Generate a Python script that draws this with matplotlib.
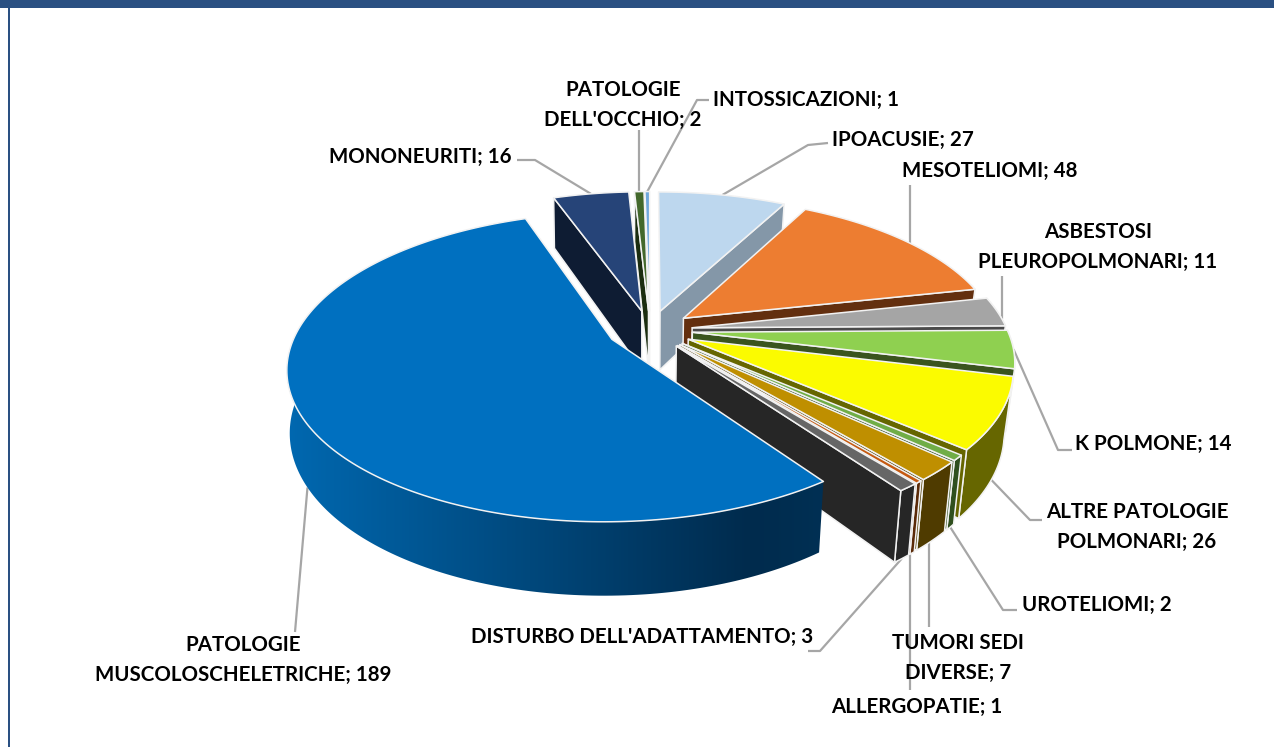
""" exploded 3D pie of reported occupational diseases """
import numpy as np
import matplotlib
matplotlib.use('Agg')
import matplotlib.pyplot as plt
from matplotlib.patches import Polygon, Rectangle
from matplotlib.colors import to_rgb

''' data, clockwise from 12 o'clock '''
names = ['IPOACUSIE', 'MESOTELIOMI', 'ASBESTOSI\nPLEUROPOLMONARI', 'K POLMONE',
         'ALTRE PATOLOGIE\nPOLMONARI', 'UROTELIOMI', 'TUMORI SEDI\nDIVERSE', 'ALLERGOPATIE',
         "DISTURBO DELL'ADATTAMENTO", 'PATOLOGIE\nMUSCOLOSCHELETRICHE', 'MONONEURITI',
         "PATOLOGIE\nDELL'OCCHIO", 'INTOSSICAZIONI']
values = [27, 48, 11, 14, 26, 2, 7, 1, 3, 189, 16, 2, 1]
top_colors = ['#BDD7EE', '#ED7D31', '#A5A5A5', '#8FD050', '#FBFB00', '#70AD47', '#BF8F00',
              '#C55A11', '#666666', '#0070C0', '#264478', '#43682B', '#6FA8DC']
wall_colors = ['#8497A8', '#632F0F', '#4A4A4A', '#3A541E', '#666600', '#2F4F1E', '#4F3B00',
               '#5A2A08', '#262626', '#0070C0', '#0E1C33', '#1B2D10', '#3F6080']

''' label layout: text centre, leader elbows (None = same x as the start),
how far down the wall the leader starts, and its angle shift in degrees '''
label_xy = [(903, 140), (990, 171), (1098, 247), (1153, 444), (1137, 527), (1097, 605), (958, 658),
            (917, 707), (642, 637), (243, 660), (420, 157), (623, 105), (806, 100)]
elbows = [[(808, 145), (828, 143)], [(None, 185)], [(None, 276)], [(1058, 450), (1072, 450)],
          [(1030, 520), (1042, 520)], [(1003, 610), (1017, 610)], [(None, 627)], [(None, 690)],
          [(820, 651), (808, 651)], [(295, 632)], [(535, 160), (517, 160)], [(None, 130)],
          [(697, 100), (709, 100)]]
leader_depth = [0, 0, 0, 0, 1, 1, 1, 1, 1, 1, 0, 0, 0]
leader_shift = [0, 1.5, 3, 0, 0, 0, 0.5, 0.5, 0, -2, 0, 0, 0]

''' projection of the pie plane to the screen '''
cx, cy = 650, 330
Rx, Ry, depth = 315, 146.5, 60
persp = 0.177
explode = 0.135
shrink_right, shrink_left = 0.025, 0.008  # bottom face is further from the camera


def project(u, v, z=0.0):
    s = 1 / (1 + persp * v)
    shrink = shrink_right if u > 0 else shrink_left
    return cx + Rx * u * s * (1 - shrink * z), cy + (-Ry * v + depth * z) * s


def rim(t, mid, z=0.0):
    return project(explode * np.sin(mid) + np.sin(t), explode * np.cos(mid) + np.cos(t), z)


def apex(mid, z=0.0):
    return project(explode * np.sin(mid), explode * np.cos(mid), z)


fig = plt.figure(figsize=(12.74, 7.47), dpi=100)
ax = fig.add_axes([0, 0, 1, 1])

# frame of the slide
ax.add_patch(Rectangle((0, 0), 1274, 8, color='#2A5082', lw=0))
ax.add_patch(Rectangle((8, 0), 2, 747, color='#2A5082', lw=0))

edges = np.cumsum([0] + values) / sum(values) * 2 * np.pi
EDGE = dict(edgecolor='#F2F2F2', linewidth=1.1, joinstyle='round')

# painter order: right side going forward, then small left ones, then the big slice
order = [0, 1, 2, 3, 4, 5, 6, 7, 8, 12, 11, 10, 9]
z = 2
for i in order:
    t0, t1 = edges[i], edges[i + 1]
    mid = (t0 + t1) / 2
    ts = np.linspace(t0, t1, max(int((t1 - t0) * 60), 3))
    # the curved wall only shows on the front part of the pie
    front = ts[(ts > np.radians(75)) & (ts < np.radians(285))]
    if len(front) > 1:
        outer = [rim(t, mid) for t in front] + [rim(t, mid, 1) for t in front[::-1]]
        if i == 9:
            # big slice: outer wall fades from light on the left to dark on the right
            xs = np.linspace(280, 830, 256)
            stops = [to_rgb(c) for c in ('#0068B0', '#002B4D', '#003054')]
            grad = np.stack([np.interp(xs, [287, 750, 825], [c[k] for c in stops]) for k in range(3)], axis=1)
            im = ax.imshow(grad[np.newaxis, :, :], extent=(280, 830, 620, 340), aspect='auto', zorder=z)
            im.set_clip_path(Polygon(outer, transform=ax.transData))
        else:
            ax.add_patch(Polygon(outer, facecolor=wall_colors[i], zorder=z, **EDGE))
    # only the radial face turned to the viewer is drawn
    if t1 < np.pi:
        wall = [apex(mid), rim(t1, mid), rim(t1, mid, 1), apex(mid, 1)]
        ax.add_patch(Polygon(wall, facecolor=wall_colors[i], zorder=z, **EDGE))
    if t0 > np.pi:
        wall = [apex(mid), rim(t0, mid), rim(t0, mid, 1), apex(mid, 1)]
        ax.add_patch(Polygon(wall, facecolor=wall_colors[i], zorder=z, **EDGE))
    top = [apex(mid)] + [rim(t, mid) for t in ts]
    ax.add_patch(Polygon(top, facecolor=top_colors[i], zorder=z + 0.5, **EDGE))
    z += 1

''' labels and leader lines '''
for i in range(len(values)):
    mid = (edges[i] + edges[i + 1]) / 2
    start = rim(mid + np.radians(leader_shift[i]), mid, leader_depth[i])
    path = [start] + [(start[0] if ex is None else ex, ey) for ex, ey in elbows[i]]
    px, py = zip(*path)
    ax.plot(px, py, color='#A6A6A6', lw=1.6, zorder=1, solid_capstyle='butt')
    ax.text(label_xy[i][0], label_xy[i][1], '%s; %d' % (names[i], values[i]), ha='center', va='center',
            family='Lato', weight='bold', fontsize=14.75, color='black', linespacing=1.58, zorder=31)

ax.set_xlim(0, 1274)
ax.set_ylim(747, 0)
ax.axis('off')

fig.savefig('out.png', dpi=100)
